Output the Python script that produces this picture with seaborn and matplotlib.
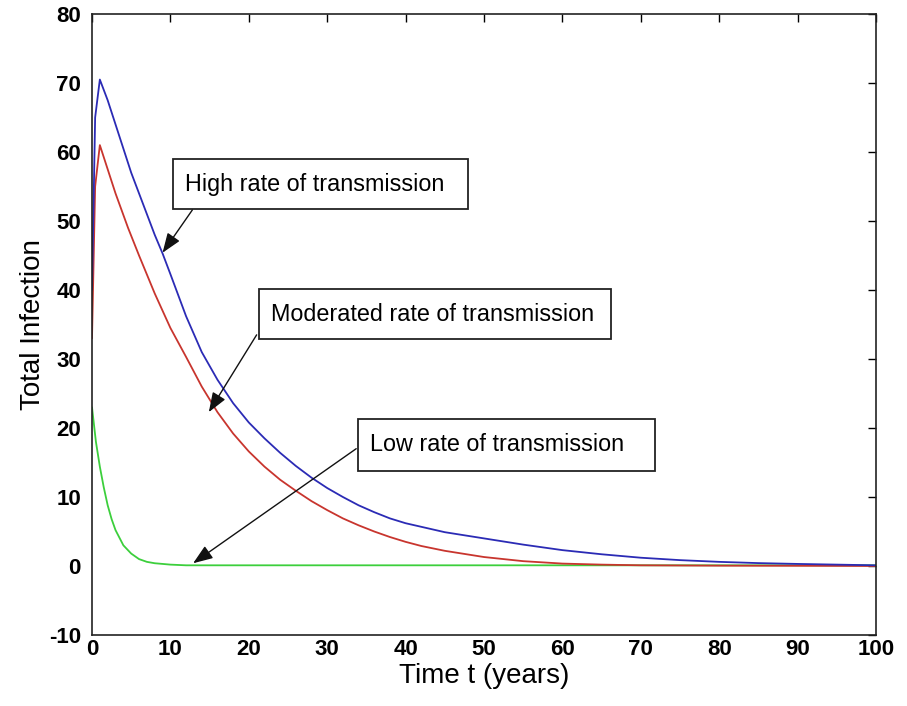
import matplotlib
matplotlib.use("Agg")
import matplotlib.pyplot as plt
from matplotlib.patches import Rectangle
import seaborn as sns
import pandas as pd

# Total infection over time for three transmission rates
high_t = [0, 0.4, 1, 2, 3, 4, 5, 6, 7, 8, 9, 10, 12, 14, 16, 18, 20, 22, 24, 26, 28,
          30, 32, 34, 36, 38, 40, 45, 50, 55, 60, 65, 70, 75, 80, 85, 90, 95, 100]
high_y = [40, 65, 70.5, 67.5, 64, 60.5, 57, 54, 51, 48, 45.3, 42.3, 36.2, 31.0, 27.0,
          23.6, 20.8, 18.5, 16.4, 14.5, 12.8, 11.3, 10.0, 8.8, 7.8, 6.9, 6.2, 4.9,
          4.0, 3.1, 2.3, 1.7, 1.2, 0.85, 0.6, 0.42, 0.3, 0.2, 0.1]

mod_t = [0, 0.4, 1, 2, 3, 4.6, 6, 8, 10, 12, 14, 16, 18, 20, 22, 24, 26, 28, 30, 32,
         34, 36, 38, 40, 42, 45, 50, 55, 60, 65, 70, 80, 90, 100]
mod_y = [33, 55, 61, 57.5, 54, 49, 45, 39.5, 34.5, 30.3, 26.0, 22.3, 19.2, 16.6, 14.4,
         12.5, 10.9, 9.4, 8.1, 6.9, 5.9, 5.0, 4.2, 3.5, 2.9, 2.2, 1.3, 0.7, 0.35,
         0.2, 0.1, 0.05, 0.03, 0.0]

low_t = [0, 0.5, 1, 1.5, 2, 2.5, 3, 4, 5, 6, 7, 8, 10, 12, 15, 20, 40, 60, 80, 100]
low_y = [23, 18, 14.4, 11.4, 8.8, 6.8, 5.2, 3.0, 1.8, 1.0, 0.6, 0.4, 0.2, 0.1, 0.1,
         0.1, 0.1, 0.1, 0.1, 0.1]

x_ticks = [0, 10, 20, 30, 40, 50, 60, 70, 80, 90, 100]
y_ticks = [-10, 0, 10, 20, 30, 40, 50, 60, 70, 80]

# Annotation boxes: label, box (x0, y0, x1, y1), arrow tail, arrow head
notes = [
    ("High rate of transmission", (10.3, 51.7, 48.0, 59.0), (12.8, 51.6), (9.0, 45.4)),
    ("Moderated rate of transmission", (21.3, 32.9, 66.2, 40.1), (21.0, 33.5), (14.9, 22.3)),
    ("Low rate of transmission", (33.9, 13.8, 71.8, 21.3), (33.7, 17.0), (12.9, 0.4)),
]

sns.set_style("white")
plt.rcParams["font.family"] = ["Liberation Sans", "DejaVu Sans"]
plt.rcParams["axes.unicode_minus"] = False
plt.rcParams["xtick.direction"] = "in"
plt.rcParams["ytick.direction"] = "in"

fig = plt.figure(figsize=(9.07, 7.06), dpi=100)
ax = fig.add_axes([92 / 907, 71 / 706, 784 / 907, 621 / 706])

series = [
    (low_t, low_y, "#3ccf3c"),
    (mod_t, mod_y, "#c8352e"),
    (high_t, high_y, "#2b2bb5"),
]
for t, y, c in series:
    df = pd.DataFrame({"t": t, "y": y})
    sns.lineplot(data=df, x="t", y="y", ax=ax, color=c, linewidth=1.3,
                 estimator=None, sort=False)

ax.set_xlim(0, 100)
ax.set_ylim(-10, 80)
ax.set_xticks(x_ticks)
ax.set_yticks(y_ticks)
ax.tick_params(axis="both", which="both", direction="in", length=6, width=1,
               top=True, right=True, labelsize=16, colors="black")
ax.tick_params(axis="x", pad=3)
ax.tick_params(axis="y", pad=8)
for lab in ax.get_xticklabels() + ax.get_yticklabels():
    lab.set_fontweight("bold")
for sp in ax.spines.values():
    sp.set_color("#222222")
    sp.set_linewidth(1.2)

ax.set_xlabel("Time t (years)", fontsize=20, labelpad=2, color="black")
ax.set_ylabel("Total Infection", fontsize=20, labelpad=2, color="black")

for label, (x0, y0, x1, y1), tail, head in notes:
    ax.add_patch(Rectangle((x0, y0), x1 - x0, y1 - y0, facecolor="white",
                           edgecolor="#222222", linewidth=1.3, zorder=5))
    ax.text(x0 + 1.5, (y0 + y1) / 2, label, fontsize=16.8, ha="left", va="center",
            zorder=6, color="black")
    ax.annotate("", xy=head, xytext=tail, zorder=6,
                arrowprops=dict(arrowstyle="-|>,head_length=1.2,head_width=0.45",
                                color="#111111", linewidth=1.0, shrinkA=0, shrinkB=0))

fig.savefig("out.png", dpi=100, facecolor="white")
